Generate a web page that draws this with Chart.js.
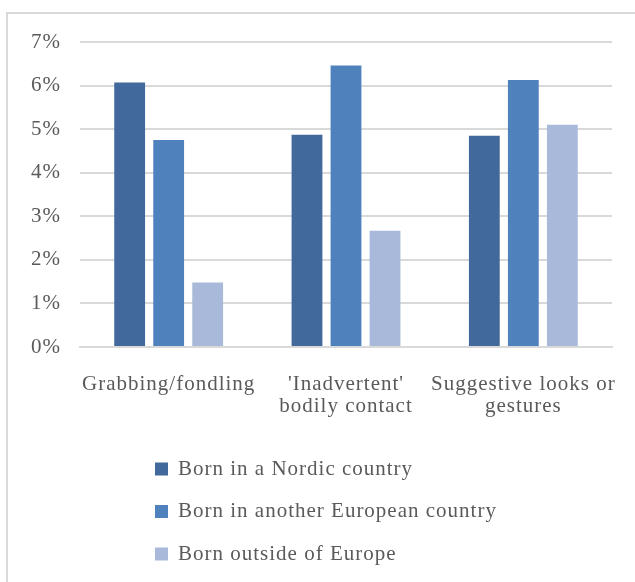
<!DOCTYPE html>
<html>
<head>
<meta charset="utf-8">
<script src="https://cdn.jsdelivr.net/npm/chart.js@4.4.0/dist/chart.umd.min.js"></script>
<style>
  html, body { margin: 0; padding: 0; background: #ffffff; }
  #wrap { position: relative; width: 635px; height: 582px; }
  canvas { display: block; }
</style>
</head>
<body>
<div id="wrap"><canvas id="c" width="635" height="582"></canvas></div>
<script>
const categories = [
  ["Grabbing/fondling"],
  ["'Inadvertent'", "bodily contact"],
  ["Suggestive looks or", "gestures"]
];
const seriesNames = [
  "Born in a Nordic country",
  "Born in another European country",
  "Born outside of Europe"
];
const nordicValues   = [6.07, 4.87, 4.85];
const europeanValues = [4.75, 6.46, 6.13];
const outsideValues  = [1.48, 2.67, 5.10];
const yTicks = [0, 1, 2, 3, 4, 5, 6, 7];

const colors = ["#41699c", "#4f81bd", "#a8b9d9"];
const textColor = "#5a5a5a";
const fontFamily = "'Liberation Serif', 'DejaVu Serif', serif";
const letterSpacing = "1px";

const spacingPlugin = {
  id: 'spacing',
  beforeInit(chart) { chart.ctx.letterSpacing = letterSpacing; },
  beforeUpdate(chart) { chart.ctx.letterSpacing = letterSpacing; },
  beforeLayout(chart) { chart.ctx.letterSpacing = letterSpacing; },
  beforeDraw(chart) { chart.ctx.letterSpacing = letterSpacing; }
};

const framePlugin = {
  id: 'frame',
  beforeDraw(chart) {
    const ctx = chart.ctx;
    ctx.save();
    ctx.strokeStyle = "#d9d9d9";
    ctx.lineWidth = 2;
    ctx.beginPath();
    ctx.moveTo(7, 600);
    ctx.lineTo(7, 13);
    ctx.lineTo(640, 13);
    ctx.stroke();
    ctx.restore();
  }
};

const legendPlugin = {
  id: 'vlegend',
  afterDraw(chart) {
    const ctx = chart.ctx;
    ctx.save();
    ctx.letterSpacing = letterSpacing;
    ctx.font = "21px " + fontFamily;
    ctx.textBaseline = "middle";
    ctx.textAlign = "left";
    const x0 = 155, y0 = 469, step = 42.5, box = 13;
    chart.data.datasets.forEach((ds, i) => {
      const cy = y0 + i * step;
      ctx.fillStyle = ds.backgroundColor;
      ctx.fillRect(x0, cy - box / 2, box, box);
      ctx.fillStyle = textColor;
      ctx.fillText(ds.label, x0 + 23, cy);
    });
    ctx.restore();
  }
};

new Chart(document.getElementById('c'), {
  type: 'bar',
  data: {
    labels: categories,
    datasets: [
      { label: seriesNames[0], data: nordicValues,   backgroundColor: colors[0] },
      { label: seriesNames[1], data: europeanValues, backgroundColor: colors[1] },
      { label: seriesNames[2], data: outsideValues,  backgroundColor: colors[2] }
    ]
  },
  options: {
    responsive: false,
    animation: false,
    devicePixelRatio: 1,
    layout: { padding: { left: 0, right: 23, top: 42, bottom: 135 } },
    datasets: { bar: { categoryPercentage: 0.66, barPercentage: 0.79 } },
    plugins: {
      legend: { display: false },
      tooltip: { enabled: false },
      title: { display: false }
    },
    scales: {
      x: {
        grid: { display: false, drawTicks: false },
        border: { display: true, color: "#d9d9d9", width: 2 },
        ticks: {
          color: textColor,
          font: { family: fontFamily, size: 21, lineHeight: 1.05 },
          padding: 26,
          autoSkip: false,
          maxRotation: 0,
          minRotation: 0
        },
        afterFit(scale) {
          scale.height = 100;
          scale.paddingLeft = 0;
          scale.paddingRight = 0;
        }
      },
      y: {
        min: 0,
        max: 7,
        afterBuildTicks(scale) { scale.ticks = yTicks.map(v => ({ value: v })); },
        grid: { color: "#d9d9d9", lineWidth: 2, drawTicks: false },
        border: { display: false },
        ticks: {
          color: textColor,
          font: { family: fontFamily, size: 21 },
          padding: 19,
          callback: (v) => v + "%"
        },
        afterFit(scale) {
          scale.width = 80;
          scale.paddingTop = 0;
          scale.paddingBottom = 0;
        }
      }
    }
  },
  plugins: [spacingPlugin, framePlugin, legendPlugin]
});
</script>
</body>
</html>
